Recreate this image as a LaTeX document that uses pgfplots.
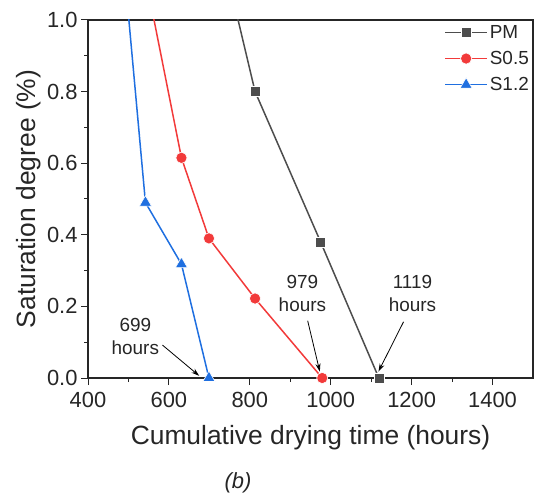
\documentclass[border=0pt]{standalone}
\usepackage{pgfplots}
\pgfplotsset{compat=1.18}
\usepackage{fontspec}
\setmainfont{Liberation Sans}
\usetikzlibrary{arrows.meta}
\definecolor{pmc}{HTML}{4D4D4D}
\definecolor{sred}{HTML}{F23A3A}
\definecolor{sblue}{HTML}{1F6FE0}
\definecolor{txt}{HTML}{262626}
\begin{document}
\begin{tikzpicture}
\begin{axis}[
  scale only axis, width=445bp, height=358bp,
  xmin=400, xmax=1500, ymin=0, ymax=1.0,
  xtick={400,600,800,1000,1200,1400}, minor x tick num=1,
  ytick={0,0.2,0.4,0.6,0.8,1.0}, minor y tick num=1,
  ticklabel style={font=\fontsize{22}{24}\selectfont, color=txt},
  xticklabel style={yshift=-4bp},
  yticklabel style={/pgf/number format/.cd, fixed, fixed zerofill, precision=1},
  /pgf/number format/1000 sep={},
  /pgf/number format/assume math mode=true,
  tick align=outside, xtick pos=bottom, ytick pos=left,
  major tick length=7bp, minor tick length=4bp,
  every tick/.style={line width=1bp, color=txt},
  axis line style={line width=1.2bp, color=txt},
  xlabel={Cumulative drying time (hours)},
  ylabel={Saturation degree (\%)},
  label style={font=\fontsize{26.5}{30}\selectfont, color=txt},
  xlabel style={at={(axis description cs:0.5,-0.1676)}, anchor=center},
  ylabel style={at={(axis description cs:-0.1326,0.5)}, anchor=center},
  clip mode=individual,
  legend style={draw=none, fill=none, at={(1,1)}, anchor=north east,
    font=\fontsize{19}{21}\selectfont, text=txt, row sep=7.5bp, inner sep=2bp,
    yshift=-1bp},
  legend cell align=left,
  legend image code/.code={\draw[mark repeat=2,mark phase=2,#1] plot coordinates {(0bp,0bp) (21bp,0bp) (42bp,0bp)};},
]
\addplot[color=pmc, line width=1.5bp, mark=square*, mark size=5bp,
  mark options={fill=pmc, draw=white, line width=0.6bp}]
  coordinates {(729,1.2) (813,0.8) (975,0.38) (1119,0)};
\addlegendentry{PM}
\addplot[color=sred, line width=1.5bp, mark=*, mark size=5.6bp,
  mark options={fill=sred, draw=white, line width=0.6bp}]
  coordinates {(528,1.2) (631,0.615) (699,0.39) (813,0.222) (979,0)};
\addlegendentry{S0.5}
\addplot[color=sblue, line width=1.5bp, mark=triangle*, mark size=7bp,
  mark options={fill=sblue, draw=white, line width=0.6bp}]
  coordinates {(485,1.2) (542,0.49) (631,0.318) (699,0)};
\addlegendentry{S1.2}

\node[align=center, font=\fontsize{19}{23}\selectfont, text=txt] at (axis cs:517,0.117) {699\\hours};
\draw[line width=0.8bp, -{Stealth[length=8bp,width=5bp]}] (axis cs:584,0.092) -- (axis cs:675,0.006);
\node[align=center, font=\fontsize{19}{23}\selectfont, text=txt] at (axis cs:930,0.237) {979\\hours};
\draw[line width=0.8bp, -{Stealth[length=8bp,width=5bp]}] (axis cs:943,0.16) -- (axis cs:973,0.018);
\node[align=center, font=\fontsize{19}{23}\selectfont, text=txt] at (axis cs:1202,0.237) {1119\\hours};
\draw[line width=0.8bp, -{Stealth[length=8bp,width=5bp]}] (axis cs:1180,0.157) -- (axis cs:1118,0.018);
\coordinate (bpos) at (axis cs:771,-0.293);
\end{axis}
\node[font=\itshape\fontsize{22}{24}\selectfont, text=txt] at (bpos) {(b)};
\pgfresetboundingbox
\useasboundingbox (-88bp,-117bp) rectangle (447bp,378bp);
\end{tikzpicture}
\end{document}
